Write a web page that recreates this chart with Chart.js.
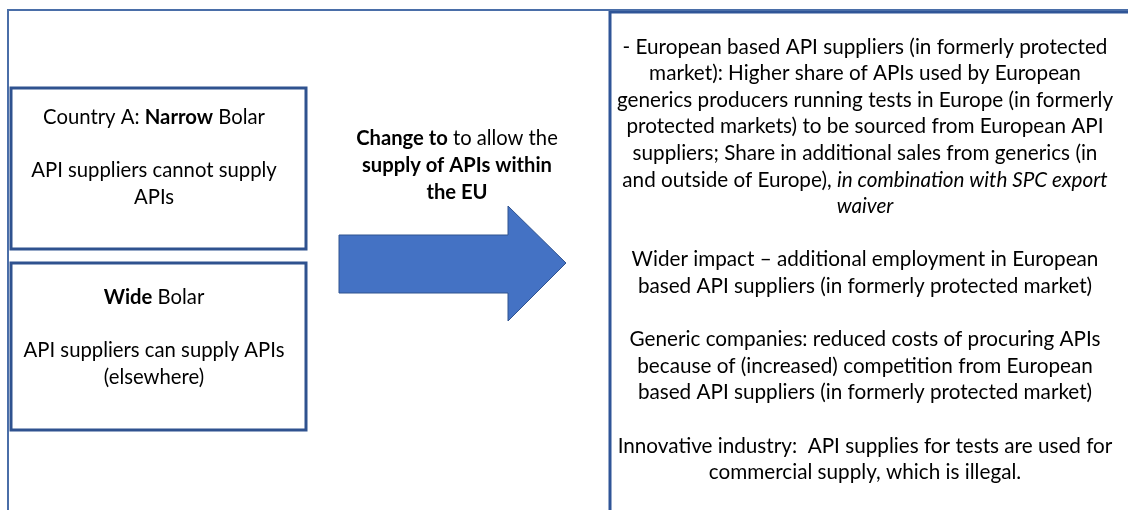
<!DOCTYPE html>
<html>
<head>
<meta charset="utf-8">
<script src="https://cdn.jsdelivr.net/npm/chart.js@4.4.0/dist/chart.umd.min.js"></script>
<style>
  html, body { margin: 0; padding: 0; background: #fff; }
  canvas { display: block; }
</style>
</head>
<body>
<canvas id="diagram" width="1128" height="510"></canvas>
<script>
// diagram geometry, in axis units (x: 0..1128, y: 0..510 from the top)
const outerFrame = [[8, 510], [8, 10], [1128, 10]]
const rightPanel = [[610, 510], [610, 12], [1128, 12]]
const narrowBox = [[11, 88], [306, 88], [306, 249], [11, 249], [11, 88], [306, 88]]
const wideBox = [[11, 263], [306, 263], [306, 430], [11, 430], [11, 263], [306, 263]]
const arrowShape = [[339, 235], [508, 235], [508, 206], [566, 263], [508, 321], [508, 293], [339, 293], [339, 235]]

// text lines: runs of [text, style]  n = normal, b = bold, i = italic
const narrowLines = [
    [['Country A: ', 'n'], ['Narrow', 'b'], [' Bolar', 'n']],
    [],
    [['API suppliers cannot supply', 'n']],
    [['APIs', 'n']]
]
const wideLines = [
    [['Wide', 'b'], [' Bolar', 'n']],
    [],
    [['API suppliers can supply APIs', 'n']],
    [['(elsewhere)', 'n']]
]
const arrowLines = [
    [['Change to', 'b'], [' to allow the', 'n']],
    [['supply of APIs within', 'b']],
    [['the EU', 'b']]
]
const impactLines = [
    [['- European based API suppliers (in formerly protected', 'n']],
    [['market): Higher share of APIs used by European', 'n']],
    [['generics producers running tests in Europe (in formerly', 'n']],
    [['protected markets) to be sourced from European API', 'n']],
    [['suppliers; Share in additional sales from generics (in', 'n']],
    [['and outside of Europe), ', 'n'], ['in combination with SPC export', 'i']],
    [['waiver', 'i']],
    [],
    [['Wider impact \u2013 additional employment in European', 'n']],
    [['based API suppliers (in formerly protected market)', 'n']],
    [],
    [['Generic companies: reduced costs of procuring APIs', 'n']],
    [['because of (increased) competition from European', 'n']],
    [['based API suppliers (in formerly protected market)', 'n']],
    [],
    [['Innovative industry:  API supplies for tests are used for', 'n']],
    [['commercial supply, which is illegal.', 'n']]
]

// where each text block sits: [centre x, first line y, line step, font px]
const textBlocks = [
    { lines: narrowLines, at: [154, 117, 26.7, 20.3] },
    { lines: wideLines, at: [154, 297, 26.7, 20.3] },
    { lines: arrowLines, at: [457, 138, 27, 20.2] },
    { lines: impactLines, at: [865, 47, 26.6, 20.7] }
]

const toPoints = (pairs) => pairs.map(p => ({ x: p[0], y: p[1] }))

const fontFamily = 'Lato, "Open Sans", sans-serif'
const fontFor = (style, size) => {
    if (style === 'b') return `bold ${size}px ${fontFamily}`
    if (style === 'i') return `italic ${size}px ${fontFamily}`
    return `${size}px ${fontFamily}`
}

const textPlugin = {
    id: 'blockText',
    afterDatasetsDraw(chart) {
        const ctx = chart.ctx
        const xs = chart.scales.x
        const ys = chart.scales.y
        ctx.save()
        ctx.fillStyle = '#000'
        ctx.textBaseline = 'middle'
        ctx.textAlign = 'left'
        textBlocks.forEach(block => {
            const [cx, y0, step, size] = block.at
            block.lines.forEach((runs, i) => {
                if (!runs.length) return
                let width = 0
                runs.forEach(r => {
                    ctx.font = fontFor(r[1], size)
                    width += ctx.measureText(r[0]).width
                })
                let x = xs.getPixelForValue(cx) - width / 2
                const y = ys.getPixelForValue(y0 + i * step)
                runs.forEach(r => {
                    ctx.font = fontFor(r[1], size)
                    ctx.fillText(r[0], x, y)
                    x += ctx.measureText(r[0]).width
                })
            })
        })
        ctx.restore()
    }
}

const lineSet = (pairs, color, width) => ({
    data: toPoints(pairs),
    showLine: true,
    borderColor: color,
    borderWidth: width,
    pointRadius: 0,
    fill: false,
    tension: 0,
    clip: false,
    borderJoinStyle: 'miter',
    borderCapStyle: 'butt'
})

const datasets = [
    lineSet(outerFrame, '#4a6ea8', 2),
    lineSet(rightPanel, '#2f5597', 3),
    lineSet(narrowBox, '#2f528f', 3),
    lineSet(wideBox, '#2f528f', 3),
    Object.assign(lineSet(arrowShape, '#2f528f', 1), { fill: 'shape', backgroundColor: '#4472c4' })
]

new Chart(document.getElementById('diagram'), {
    type: 'scatter',
    data: { datasets },
    options: {
        responsive: false,
        animation: false,
        layout: { padding: 0 },
        plugins: {
            legend: { display: false },
            tooltip: { enabled: false },
            filler: { propagate: false }
        },
        scales: {
            x: { type: 'linear', min: 0, max: 1128, display: false },
            y: { type: 'linear', min: 0, max: 510, reverse: true, display: false }
        }
    },
    plugins: [textPlugin]
})
</script>
</body>
</html>
